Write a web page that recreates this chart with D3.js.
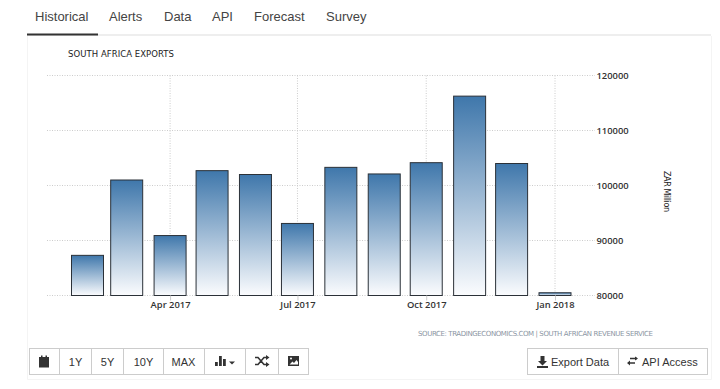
<!DOCTYPE html>
<html>
<head>
<meta charset="utf-8">
<script src="https://cdn.jsdelivr.net/npm/d3@7"></script>
<style>
	html, body { margin: 0; padding: 0; background: #fff; overflow: hidden; }
	svg { display: block; }
	.ui { font-family: "Liberation Sans", Arial, sans-serif; }
	.chart-text { font-family: "DejaVu Sans", sans-serif; fill: #222; }
	.axis path { display: none; }
	.axis line { stroke: #ccc; }
	.axis text { font-family: "Open Sans", sans-serif; font-size: 9.4px; font-weight: 600; fill: #333; }
</style>
</head>
<body>
<script>
var months = ["2017-02-01", "2017-03-01", "2017-04-01", "2017-05-01", "2017-06-01", "2017-07-01",
	"2017-08-01", "2017-09-01", "2017-10-01", "2017-11-01", "2017-12-01", "2018-01-01"];
var exportsZar = [87300, 101000, 90900, 102700, 102000, 93100, 103300, 102100, 104150, 116250, 104000, 80500];
var yTicks = [80000, 90000, 100000, 110000, 120000];
var xTicks = ["2017-04-01", "2017-07-01", "2017-10-01", "2018-01-01"];
var tabs = ["Historical", "Alerts", "Data", "API", "Forecast", "Survey"];
var tabLeft = [35, 109, 164, 212, 254, 326];
var rangeButtons = ["1Y", "5Y", "10Y", "MAX"];

var width = 720,
	height = 389,
	margin = {top: 75.5, right: 125, bottom: 93.5, left: 47},
	barWidth = 32;

var parse = d3.utcParse("%Y-%m-%d");
var data = months.map(function(m, i) { return {date: parse(m), value: exportsZar[i]}; });

var svg = d3.select("body").append("svg")
	.attr("width", width)
	.attr("height", height);

var defs = svg.append("defs");
var grad = defs.append("linearGradient")
	.attr("id", "barFill")
	.attr("x1", 0).attr("y1", 0).attr("x2", 0).attr("y2", 1);
grad.append("stop").attr("offset", "0%").attr("stop-color", "#3f77ab");
grad.append("stop").attr("offset", "100%").attr("stop-color", "#fbfcfe");

// card outline
svg.append("path")
	.attr("d", "M27.5,36V379.5H711.5V36")
	.attr("fill", "none")
	.attr("stroke", "#f4f4f4");

// tabs
svg.append("line").attr("x1", 27).attr("x2", 711).attr("y1", 35).attr("y2", 35)
	.attr("stroke", "#e8e8e8").attr("stroke-width", 1.5);
svg.append("line").attr("x1", 27).attr("x2", 98).attr("y1", 34.5).attr("y2", 34.5)
	.attr("stroke", "#333").attr("stroke-width", 2);
svg.selectAll(".tab")
	.data(tabs)
	.enter().append("text")
	.attr("class", "tab ui")
	.attr("x", function(d, i) { return tabLeft[i]; })
	.attr("y", function(d, i) { return i == 0 ? 20.5 : 21; })
	.attr("font-size", 13)
	.attr("fill", "#444")
	.text(function(d) { return d; });

// scales: Feb 2017 sits at 87.5, Jan 2018 at 555
var x = d3.scaleUtc()
	.domain([parse(months[0]), parse(months[months.length - 1])])
	.range([87.5, 555]);

var y = d3.scaleLinear()
	.domain([80000, 120000])
	.range([height - margin.bottom, margin.top]);

var gridDash = "1,1.5";

// horizontal grid
svg.append("g").selectAll("line")
	.data(yTicks)
	.enter().append("line")
	.attr("x1", margin.left)
	.attr("x2", width - margin.right)
	.attr("y1", function(d) { return y(d); })
	.attr("y2", function(d) { return y(d); })
	.attr("stroke", "#ccc")
	.attr("stroke-dasharray", gridDash);

// vertical grid
svg.append("g").selectAll("line")
	.data(xTicks)
	.enter().append("line")
	.attr("x1", function(d) { return x(parse(d)); })
	.attr("x2", function(d) { return x(parse(d)); })
	.attr("y1", y(120000))
	.attr("y2", y(80000))
	.attr("stroke", "#ccc")
	.attr("stroke-dasharray", gridDash);

// bars
svg.append("g").selectAll("rect")
	.data(data)
	.enter().append("rect")
	.attr("x", function(d) { return x(d.date) - barWidth / 2; })
	.attr("y", function(d) { return y(d.value); })
	.attr("width", barWidth)
	.attr("height", function(d) { return y(80000) - y(d.value); })
	.attr("fill", "url(#barFill)")
	.attr("stroke", "#2b3138")
	.attr("stroke-width", 1);

// axes
var xAxis = d3.axisBottom(x)
	.tickValues(xTicks.map(parse))
	.tickSize(5)
	.tickPadding(1)
	.tickFormat(d3.utcFormat("%b %Y"));
svg.append("g")
	.attr("class", "axis")
	.attr("transform", "translate(0," + y(80000) + ")")
	.call(xAxis);

var yAxis = d3.axisRight(y)
	.tickValues(yTicks)
	.tickSize(0)
	.tickPadding(0)
	.tickFormat(d3.format("d"));
svg.append("g")
	.attr("class", "axis")
	.attr("transform", "translate(596.5,0)")
	.call(yAxis);

// titles
svg.append("text")
	.attr("class", "chart-text")
	.attr("x", 68).attr("y", 56.5)
	.attr("font-size", 8.5)
	.attr("textLength", 106)
	.text("SOUTH AFRICA EXPORTS");

svg.append("text")
	.attr("class", "chart-text")
	.attr("transform", "translate(664,171) rotate(90)")
	.attr("font-size", 8)
	.attr("textLength", 41)
	.text("ZAR Million");

svg.append("text")
	.attr("class", "chart-text")
	.attr("x", 418).attr("y", 336)
	.attr("font-size", 7)
	.attr("textLength", 235)
	.style("fill", "#8b95a3")
	.text("SOURCE: TRADINGECONOMICS.COM | SOUTH AFRICAN REVENUE SERVICE");

// button bars
function buttonGroup(x0, edges) {
	var g = svg.append("g");
	g.append("rect")
		.attr("x", x0).attr("y", 348.5)
		.attr("width", edges[edges.length - 1] - x0).attr("height", 26)
		.attr("fill", "#fff").attr("stroke", "#ccc");
	g.selectAll("line")
		.data(edges.slice(0, -1))
		.enter().append("line")
		.attr("x1", function(d) { return d; })
		.attr("x2", function(d) { return d; })
		.attr("y1", 348.5).attr("y2", 374.5)
		.attr("stroke", "#ccc");
}
buttonGroup(29.5, [59.5, 91.5, 123.5, 163.5, 204.5, 245.5, 278.5, 308.5]);
buttonGroup(527.5, [618.5, 707.5]);

var rangeMid = [75.5, 107.5, 143.5, 183.5];
svg.selectAll(".range")
	.data(rangeButtons)
	.enter().append("text")
	.attr("class", "range ui")
	.attr("x", function(d, i) { return rangeMid[i]; })
	.attr("y", 366)
	.attr("text-anchor", "middle")
	.attr("font-size", 11)
	.attr("fill", "#333")
	.text(function(d) { return d; });

svg.append("text").attr("class", "ui").attr("x", 551).attr("y", 366)
	.attr("font-size", 11).attr("fill", "#333").text("Export Data");
svg.append("text").attr("class", "ui").attr("x", 642).attr("y", 366)
	.attr("font-size", 11).attr("fill", "#333").text("API Access");

// icons
var iconColor = "#333";
var icons = [
	"M39,357h10v10.5h-10z M41,355.5h1.5v2h-1.5z M45.5,355.5h1.5v2h-1.5z", // calendar
	"M215,366v-4h2.8v4z M219,366v-10h2.8v10z M223,366v-7h2.8v7z", // bars
	"M229,361.5h6l-3,3z", // caret
	"M537,366h11v2h-11z M540.5,356h4v5h2.5l-4.5,4.5l-4.5,-4.5h2.5z" // export
];
svg.append("g").selectAll("path")
	.data(icons)
	.enter().append("path")
	.attr("d", function(d) { return d; })
	.attr("fill", iconColor);

// shuffle icon
svg.append("path")
	.attr("d", "M255,357.5h3l6,7h3 M255,364.5h3l6,-7h3")
	.attr("fill", "none").attr("stroke", iconColor).attr("stroke-width", 1.6);
svg.append("path")
	.attr("d", "M266,355l3.5,2.5l-3.5,2.5z M266,362l3.5,2.5l-3.5,2.5z")
	.attr("fill", iconColor);

// picture icon
svg.append("path")
	.attr("d", "M288,356h11v10h-11z")
	.attr("fill", iconColor);
svg.append("path")
	.attr("d", "M289.5,364.5l3,-3l1.5,1.5l2.5,-3l1.5,2v2.5z")
	.attr("fill", "#fff");
svg.append("circle").attr("cx", 291).attr("cy", 358.5).attr("r", 1).attr("fill", "#fff");

// api access arrows
svg.append("path")
	.attr("d", "M628,363h7 M630,358.5h7")
	.attr("fill", "none").attr("stroke", iconColor).attr("stroke-width", 1.5);
svg.append("path")
	.attr("d", "M630,360.5l-3,2.5l3,2.5z M635,356.5l3,2l-3,2z")
	.attr("fill", iconColor);
</script>
</body>
</html>
